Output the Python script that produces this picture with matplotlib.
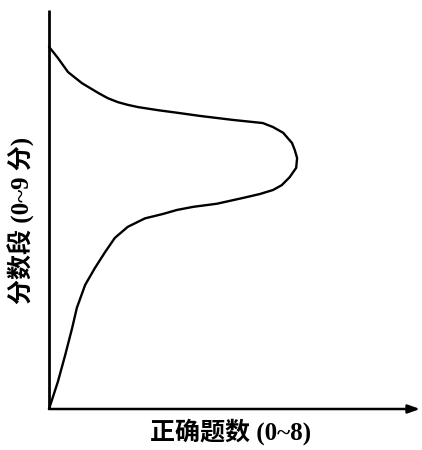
import matplotlib
matplotlib.use("Agg")
import matplotlib.pyplot as plt

# Curve: number of correct answers (x) vs score band (y)
correct = [0.00, 0.19, 0.35, 0.50, 0.60, 0.78, 0.99, 1.21, 1.42, 1.70, 2.07, 2.46,
           2.76, 3.11, 3.62, 4.18, 4.55, 4.83, 5.02, 5.19, 5.33, 5.35, 5.30, 5.24,
           5.05, 4.83, 4.61, 3.97, 3.26, 2.78, 2.35, 1.92, 1.70, 1.49, 1.27, 1.06,
           0.71, 0.41, 0.19, 0.00]
score = [0.00, 0.61, 1.22, 1.83, 2.28, 2.80, 3.18, 3.54, 3.86, 4.11, 4.30, 4.40,
         4.49, 4.56, 4.63, 4.76, 4.85, 4.94, 5.05, 5.23, 5.44, 5.66, 5.84, 6.00,
         6.23, 6.36, 6.45, 6.52, 6.61, 6.68, 6.74, 6.81, 6.86, 6.92, 7.01, 7.13,
         7.35, 7.60, 7.92, 8.17]

x_label = "正确题数 (0~8)"
y_label = "分数段 (0~9 分)"
fam = ['Liberation Serif', 'Noto Sans CJK SC', 'DejaVu Sans']

W, H = 422, 450
fig = plt.figure(figsize=(W / 100, H / 100), dpi=100)
left, right, bottom, top = 49, 420, 409, 10
ax = fig.add_axes([left / W, 1 - bottom / H, (right - left) / W, (bottom - top) / H])
ax.set_xlim(0, 8)
ax.set_ylim(0, 9)
for s in ax.spines.values():
    s.set_visible(False)
ax.set_xticks([])
ax.set_yticks([])

ax.plot(correct, score, color='black', lw=1.7, solid_capstyle='round',
        solid_joinstyle='round', clip_on=False)

# y axis (plain line) and x axis (arrow)
ax.plot([0, 0], [0, 9], color='black', lw=2.0, clip_on=False, solid_capstyle='butt')
ax.annotate('', xy=(8, 0), xytext=(0, 0), xycoords='data',
            arrowprops=dict(arrowstyle='-|>,head_length=0.7,head_width=0.25',
                            color='black', lw=1.8, shrinkA=0, shrinkB=0),
            annotation_clip=False)

fig.text(231 / W, 1 - 432 / H, x_label, ha='center', va='center',
         fontsize=18, fontweight='bold', family=fam)
fig.text(21 / W, 1 - 220 / H, y_label, ha='center', va='center', rotation=90,
         fontsize=18, fontweight='bold', family=fam)

fig.savefig('out.png', dpi=100, facecolor='white')
